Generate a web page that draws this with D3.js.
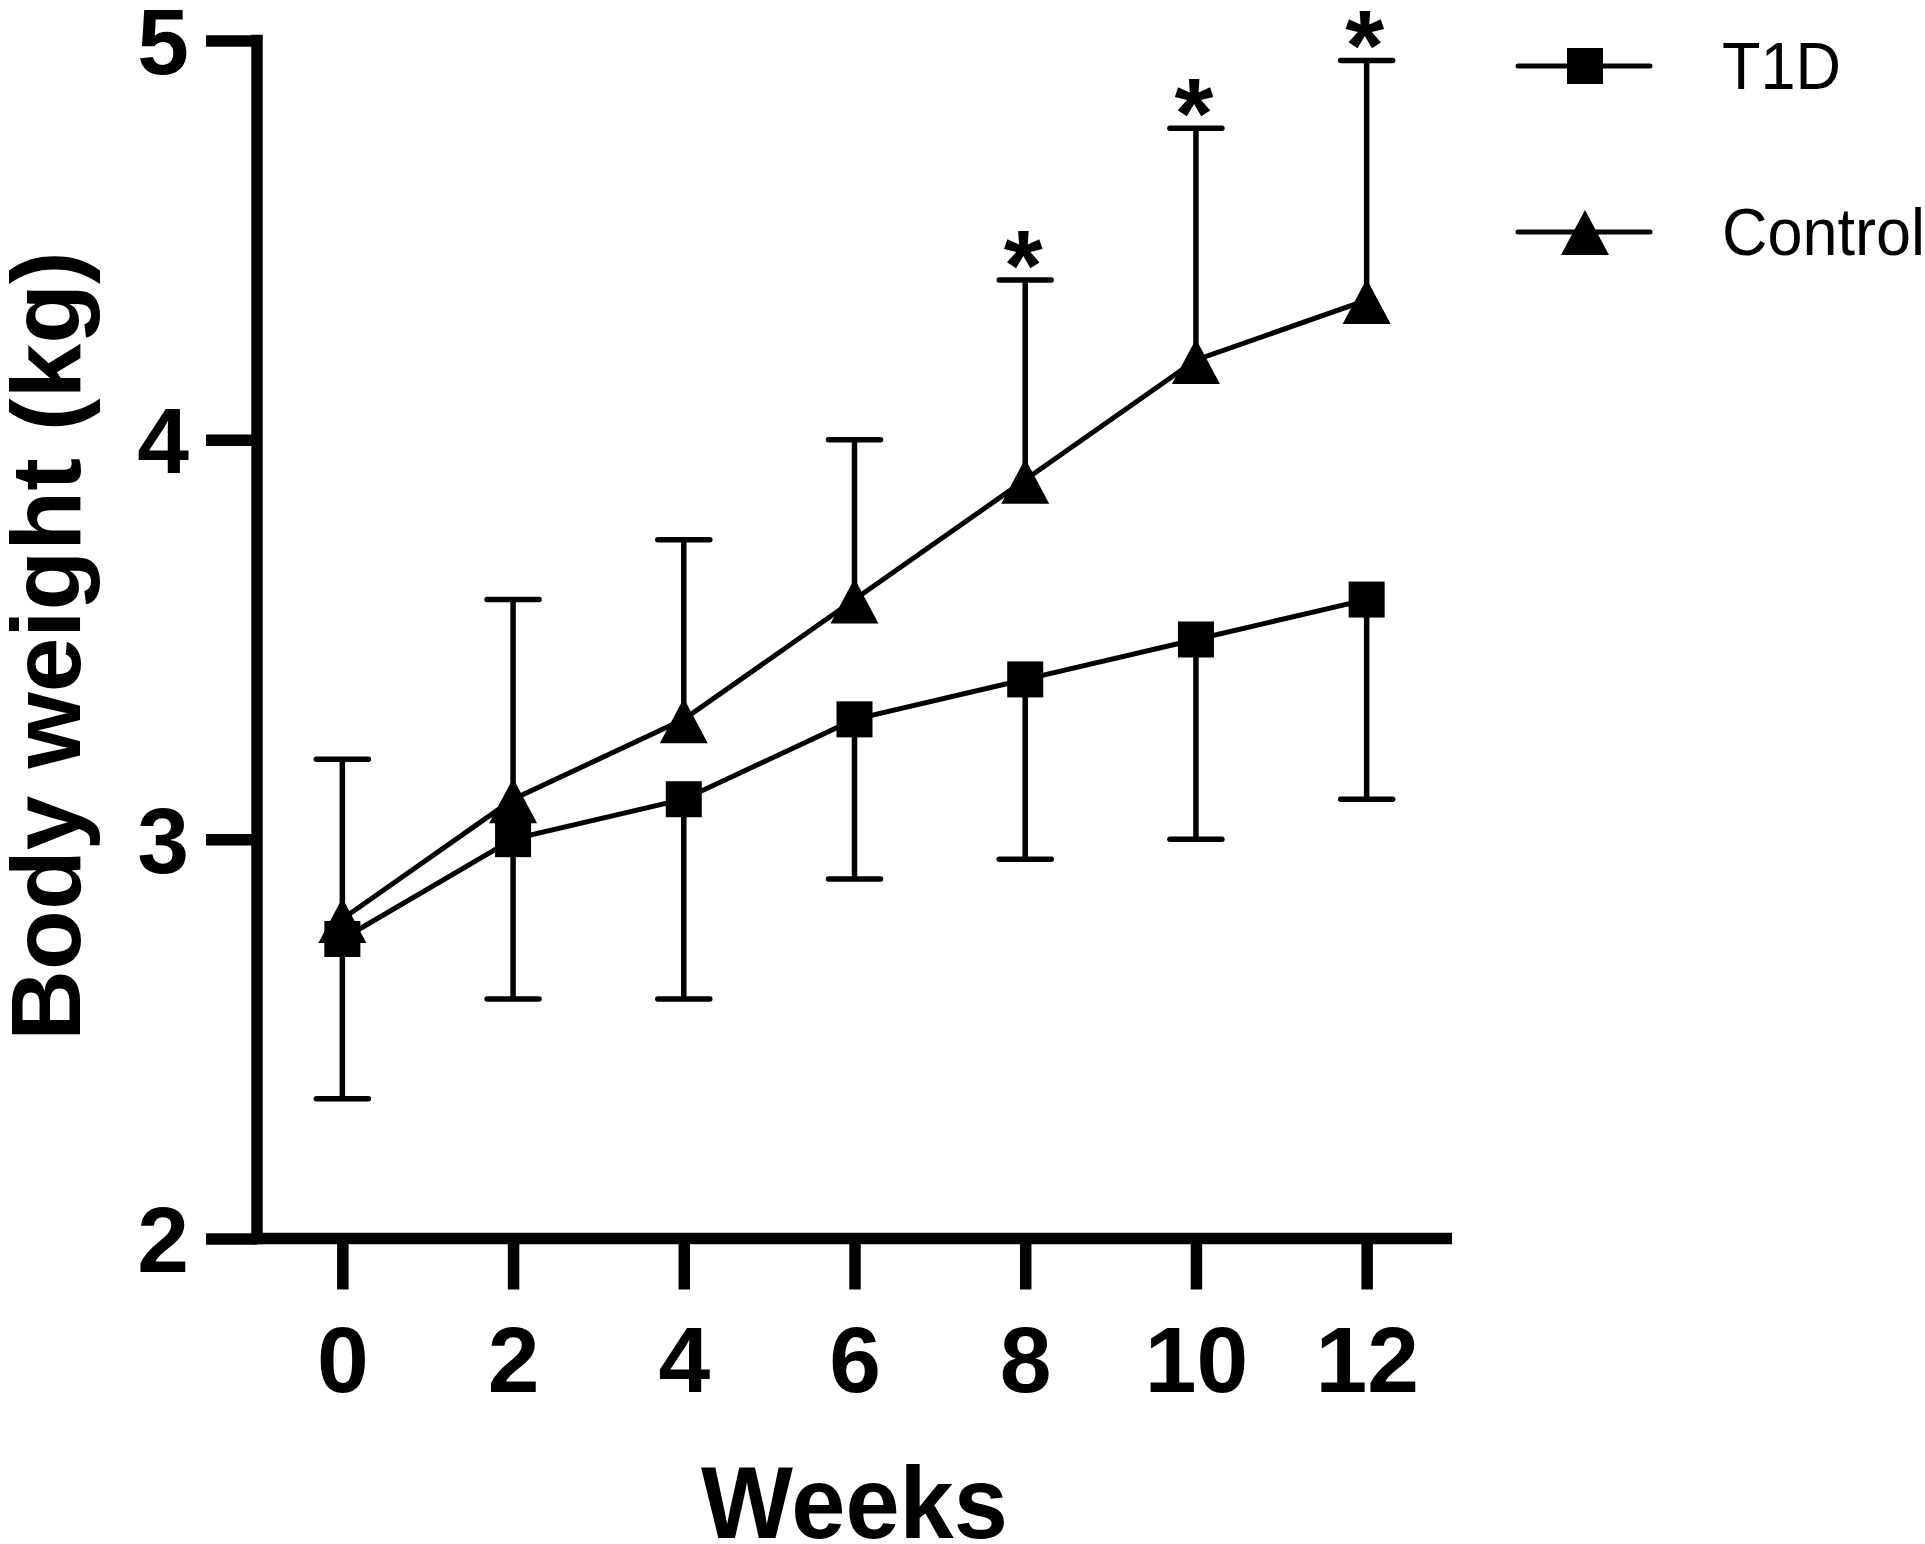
<!DOCTYPE html>
<html>
<head>
<meta charset="utf-8">
<script src="https://cdn.jsdelivr.net/npm/d3@7"></script>
<style>
    body { margin: 0; background: #fff; }
    text { font-family: "Liberation Sans", Arial, sans-serif; }
</style>
</head>
<body>
<div id="graph"></div>
<script>
// values
const weeks = [0, 2, 4, 6, 8, 10, 12];
const t1d_mean = [2.75, 3.0, 3.1, 3.3, 3.4, 3.5, 3.6];
const t1d_sd = [0.4, 0.4, 0.5, 0.4, 0.45, 0.5, 0.5];
const control_mean = [2.8, 3.1, 3.3, 3.6, 3.9, 4.2, 4.35];
const control_sd = [0.4, 0.5, 0.45, 0.4, 0.5, 0.58, 0.6];
const sig_weeks = [8, 10, 12];
const y_ticks = [2, 3, 4, 5];
const series_names = ["T1D", "Control"];

const width = 1925, height = 1544;

let svg = d3.select("#graph")
    .append("svg")
    .attr("width", width)
    .attr("height", height);

// x runs one unit past the data on each side, like Prism does
let x = d3.scaleLinear().domain([-1, 13]).range([257, 1452]);
let y = d3.scaleLinear().domain([2, 5]).range([1238.5, 40.5]);

let axis_w = 11.5;

// y axis
let yaxis = svg.append("g")
    .attr("transform", `translate(${x(-1)}, 0)`)
    .call(d3.axisLeft(y).tickValues(y_ticks).tickSize(51).tickSizeOuter(0).tickPadding(17).tickFormat(d3.format("d")));
yaxis.select(".domain").remove();
yaxis.selectAll(".tick line").attr("stroke", "#000").attr("stroke-width", axis_w);
yaxis.selectAll(".tick text")
    .attr("dy", "0.355em")
    .style("font-size", "93px")
    .style("font-weight", "bold")
    .attr("fill", "#000");

svg.append("line")
    .attr("x1", x(-1)).attr("x2", x(-1))
    .attr("y1", y(5)).attr("y2", y(2))
    .attr("stroke", "#000")
    .attr("stroke-width", axis_w)
    .attr("stroke-linecap", "square");

// x axis
let xaxis = svg.append("g")
    .attr("transform", `translate(0, ${y(2)})`)
    .call(d3.axisBottom(x).tickValues(weeks).tickSize(51).tickSizeOuter(0).tickPadding(36));
xaxis.select(".domain").remove();
xaxis.selectAll(".tick line").attr("stroke", "#000").attr("stroke-width", axis_w);
xaxis.selectAll(".tick text")
    .style("font-size", "93px")
    .style("font-weight", "bold")
    .attr("fill", "#000");

svg.append("line")
    .attr("x1", x(-1)).attr("x2", x(13))
    .attr("y1", y(2)).attr("y2", y(2))
    .attr("stroke", "#000")
    .attr("stroke-width", axis_w);

// axis titles
svg.append("text")
    .attr("transform", `translate(${(x(-1) + x(13)) / 2}, 1538) scale(0.955, 1)`)
    .style("text-anchor", "middle")
    .style("font-size", "102px")
    .style("font-weight", "bold")
    .text("Weeks");

svg.append("text")
    .attr("transform", `translate(80, 646) rotate(-90)`)
    .style("text-anchor", "middle")
    .style("font-size", "98px")
    .style("font-weight", "bold")
    .text("Body weight (kg)");

function make_rows(means, sds, dir) {
    return weeks.map(function(w, i) {
        return { week: w, mean: means[i], end: means[i] + dir * sds[i] };
    });
}

let t1d = make_rows(t1d_mean, t1d_sd, -1);
let control = make_rows(control_mean, control_sd, 1);

let line = d3.line()
    .x(function(d) { return x(d.week); })
    .y(function(d) { return y(d.mean); });

let bar_w = 5.5, cap_half = 26;

function draw_bars(rows) {
    let g = svg.append("g").attr("stroke", "#000").attr("stroke-width", bar_w);
    g.selectAll(".stem").data(rows).enter()
        .append("line")
        .attr("x1", function(d) { return x(d.week); })
        .attr("x2", function(d) { return x(d.week); })
        .attr("y1", function(d) { return y(d.mean); })
        .attr("y2", function(d) { return y(d.end); });
    g.selectAll(".cap").data(rows).enter()
        .append("line")
        .attr("stroke-linecap", "round")
        .attr("x1", function(d) { return x(d.week) - cap_half; })
        .attr("x2", function(d) { return x(d.week) + cap_half; })
        .attr("y1", function(d) { return y(d.end); })
        .attr("y2", function(d) { return y(d.end); });
}

draw_bars(t1d);
draw_bars(control);

svg.append("path")
    .datum(t1d)
    .attr("d", line)
    .attr("fill", "none")
    .attr("stroke", "#000")
    .attr("stroke-width", 5);

svg.append("path")
    .datum(control)
    .attr("d", line)
    .attr("fill", "none")
    .attr("stroke", "#000")
    .attr("stroke-width", 5);

let sq = 36;
let tri = "M0,-21L24,24L-24,24Z";

svg.append("g").selectAll("rect").data(t1d).enter()
    .append("rect")
    .attr("x", function(d) { return x(d.week) - sq / 2; })
    .attr("y", function(d) { return y(d.mean) - sq / 2; })
    .attr("width", sq)
    .attr("height", sq)
    .attr("fill", "#000");

svg.append("g").selectAll("path").data(control).enter()
    .append("path")
    .attr("transform", function(d) { return `translate(${x(d.week)}, ${y(d.mean)})`; })
    .attr("d", tri)
    .attr("fill", "#000");

// significance stars over the control bars
svg.append("g").selectAll("text").data(control.filter(function(d) { return sig_weeks.includes(d.week); })).enter()
    .append("text")
    .attr("x", function(d) { return x(d.week) - 2; })
    .attr("y", function(d) { return y(d.end) + 20; })
    .style("text-anchor", "middle")
    .style("font-size", "100px")
    .style("font-weight", "bold")
    .text("*");

// legend
let legend = svg.append("g").attr("transform", "translate(1585, 0)");
let rows_y = [66, 232];

legend.selectAll("line").data(series_names).enter()
    .append("line")
    .attr("x1", -67).attr("x2", 65)
    .attr("y1", function(d, i) { return rows_y[i]; })
    .attr("y2", function(d, i) { return rows_y[i]; })
    .attr("stroke", "#000")
    .attr("stroke-width", 5)
    .attr("stroke-linecap", "round");

legend.append("rect")
    .attr("x", -sq / 2).attr("y", rows_y[0] - sq / 2)
    .attr("width", sq).attr("height", sq)
    .attr("fill", "#000");

legend.append("path")
    .attr("transform", `translate(0, ${rows_y[1] - 1})`)
    .attr("d", tri)
    .attr("fill", "#000");

legend.selectAll("text").data(series_names).enter()
    .append("text")
    .attr("transform", function(d, i) { return `translate(137, ${rows_y[i] + 23}) scale(0.94, 1)`; })
    .style("font-size", "67px")
    .text(function(d) { return d; });
</script>
</body>
</html>
